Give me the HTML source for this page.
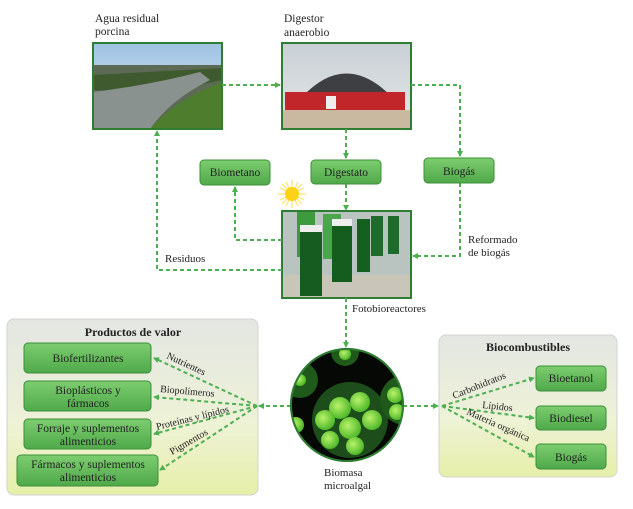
<!DOCTYPE html>
<html><head><meta charset="utf-8"><style>
html,body{margin:0;padding:0;background:#fff;width:633px;height:509px;overflow:hidden}
svg{display:block}
text{font-family:"Liberation Serif",serif;fill:#222}
</style></head><body>
<svg width="633" height="509" viewBox="0 0 633 509" xmlns="http://www.w3.org/2000/svg">
<defs>
<linearGradient id="panel" x1="0" y1="0" x2="0" y2="1"><stop offset="0" stop-color="#e3e6e3"/><stop offset="0.6" stop-color="#eef2d6"/><stop offset="1" stop-color="#e6efa8"/></linearGradient>
<linearGradient id="btn" x1="0" y1="0" x2="0" y2="1"><stop offset="0" stop-color="#7dcd6f"/><stop offset="1" stop-color="#4fa94a"/></linearGradient>
<linearGradient id="sky" x1="0" y1="0" x2="0" y2="1"><stop offset="0" stop-color="#9ec3e3"/><stop offset="1" stop-color="#dfe8ee"/></linearGradient>
<linearGradient id="sky2" x1="0" y1="0" x2="0" y2="1"><stop offset="0" stop-color="#c8d0d6"/><stop offset="1" stop-color="#e4e6e6"/></linearGradient>
<radialGradient id="cell" cx="0.4" cy="0.4" r="0.6"><stop offset="0" stop-color="#b9f26a"/><stop offset="1" stop-color="#4fb829"/></radialGradient>
<marker id="ah" markerWidth="6" markerHeight="6" refX="5" refY="3" orient="auto" markerUnits="userSpaceOnUse"><path d="M0,0 L6,3 L0,6 z" fill="#4caf50"/></marker>
<clipPath id="cc"><circle cx="347" cy="405" r="56"/></clipPath>
</defs>

<!-- panels -->
<rect x="7" y="319" width="251" height="176" rx="7" fill="url(#panel)" stroke="#d0d4d0"/>
<rect x="439" y="335" width="178" height="142" rx="7" fill="url(#panel)" stroke="#d0d4d0"/>
<text x="133" y="336" font-size="12" font-weight="bold" text-anchor="middle">Productos de valor</text>
<text x="528" y="351" font-size="12" font-weight="bold" text-anchor="middle">Biocombustibles</text>

<!-- photo 1 -->
<g>
<rect x="93" y="43" width="129" height="86" fill="url(#sky)"/>
<rect x="93" y="65" width="129" height="64" fill="#5c6b55"/>
<path d="M93,75 L222,68 L222,80 L150,95 L93,90z" fill="#3f5a2e"/>
<path d="M93,92 Q150,85 200,72 L210,80 Q170,100 150,129 L93,129z" fill="#8a9290"/>
<path d="M150,129 Q175,100 222,82 L222,129z" fill="#4f7d2e"/>
<rect x="93" y="43" width="129" height="86" fill="none" stroke="#2e7d32" stroke-width="2"/>
</g>
<!-- photo 2 -->
<g>
<rect x="282" y="43" width="129" height="86" fill="url(#sky2)"/>
<path d="M302,97 Q346,50 392,97z" fill="#3e3f42"/>
<rect x="285" y="92" width="120" height="18" fill="#c0262a"/>
<rect x="326" y="96" width="10" height="13" fill="#eee"/>
<rect x="282" y="110" width="129" height="19" fill="#c9b9a0"/>
<rect x="282" y="43" width="129" height="86" fill="none" stroke="#2e7d32" stroke-width="2"/>
</g>
<!-- photobioreactors -->
<g>
<rect x="282" y="211" width="129" height="87" fill="#b9c4c0"/>
<rect x="282" y="275" width="129" height="23" fill="#c9c6b9"/>
<rect x="297" y="212" width="18" height="45" fill="#3d9a3f"/>
<rect x="323" y="214" width="18" height="45" fill="#4aa64a"/>
<rect x="371" y="216" width="12" height="40" fill="#1e6a2a"/>
<rect x="388" y="216" width="11" height="38" fill="#1e6a2a"/>
<rect x="357" y="219" width="13" height="53" fill="#14601f"/>
<rect x="332" y="220" width="20" height="62" fill="#145d1e"/>
<rect x="332" y="219" width="20" height="7" fill="#eee"/>
<rect x="300" y="228" width="22" height="68" fill="#165c20"/>
<rect x="300" y="225" width="22" height="7" fill="#eee"/>
<rect x="282" y="211" width="129" height="87" fill="none" stroke="#2e7d32" stroke-width="2"/>
</g>

<text x="95" y="22" font-size="11.5">Agua residual</text>
<text x="95" y="35" font-size="11.5">porcina</text>
<text x="284" y="22" font-size="11.5">Digestor</text>
<text x="284" y="36" font-size="11.5">anaerobio</text>

<!-- sun -->
<g stroke="#ffe26a" stroke-width="1.2">
<line x1="278" y1="194" x2="306" y2="194"/><line x1="292" y1="180" x2="292" y2="208"/>
<line x1="282" y1="184" x2="302" y2="204"/><line x1="302" y1="184" x2="282" y2="204"/>
<line x1="280" y1="188" x2="304" y2="200"/><line x1="286" y1="182" x2="298" y2="206"/>
<line x1="298" y1="182" x2="286" y2="206"/><line x1="304" y1="188" x2="280" y2="200"/>
</g>
<circle cx="292" cy="194" r="7" fill="#fcd116"/>

<!-- connectors -->
<g stroke="#4caf50" stroke-width="2" stroke-dasharray="4,3" fill="none">
<line x1="222" y1="85" x2="280" y2="85" marker-end="url(#ah)"/>
<polyline points="411,85 460,85 460,156" marker-end="url(#ah)"/>
<line x1="346" y1="129" x2="346" y2="158" marker-end="url(#ah)"/>
<line x1="346" y1="184" x2="346" y2="210" marker-end="url(#ah)"/>
<polyline points="282,240 235,240 235,187" marker-end="url(#ah)"/>
<polyline points="282,270 157,270 157,131" marker-end="url(#ah)"/>
<polyline points="460,183 460,256 413,256" marker-end="url(#ah)"/>
<line x1="346" y1="298" x2="346" y2="347" marker-end="url(#ah)"/>
<line x1="291" y1="406" x2="259" y2="406" marker-end="url(#ah)"/>
<line x1="257" y1="406" x2="154" y2="358" marker-end="url(#ah)"/>
<line x1="257" y1="406" x2="154" y2="397" marker-end="url(#ah)"/>
<line x1="257" y1="406" x2="154" y2="434" marker-end="url(#ah)"/>
<line x1="257" y1="406" x2="160" y2="470" marker-end="url(#ah)"/>
<line x1="403" y1="406" x2="438" y2="406" marker-end="url(#ah)"/>
<line x1="442" y1="406" x2="534" y2="378" marker-end="url(#ah)"/>
<line x1="442" y1="406" x2="534" y2="418" marker-end="url(#ah)"/>
<line x1="442" y1="406" x2="534" y2="457" marker-end="url(#ah)"/>
</g>

<!-- green boxes -->
<g stroke="#3c8f3a" stroke-width="1" fill="url(#btn)">
<rect x="200" y="160" width="70" height="25" rx="4"/>
<rect x="311" y="160" width="70" height="24" rx="4"/>
<rect x="424" y="158" width="70" height="25" rx="4"/>
<rect x="24" y="343" width="127" height="30" rx="4"/>
<rect x="24" y="381" width="127" height="30" rx="4"/>
<rect x="24" y="419" width="127" height="30" rx="4"/>
<rect x="17" y="455" width="141" height="31" rx="4"/>
<rect x="536" y="366" width="70" height="25" rx="4"/>
<rect x="536" y="406" width="70" height="24" rx="4"/>
<rect x="536" y="444" width="70" height="25" rx="4"/>
</g>
<g font-size="11.5" text-anchor="middle">
<text x="235" y="176">Biometano</text>
<text x="346" y="176">Digestato</text>
<text x="459" y="175">Biogás</text>
<text x="88" y="362">Biofertilizantes</text>
<text x="88" y="394">Bioplásticos y</text>
<text x="88" y="407">fármacos</text>
<text x="88" y="432">Forraje y suplementos</text>
<text x="88" y="445">alimenticios</text>
<text x="88" y="468">Fármacos y suplementos</text>
<text x="88" y="481">alimenticios</text>
<text x="571" y="382">Bioetanol</text>
<text x="571" y="422">Biodiesel</text>
<text x="571" y="461">Biogás</text>
</g>

<!-- labels -->
<g font-size="11">
<text x="165" y="262">Residuos</text>
<text x="468" y="243">Reformado</text>
<text x="468" y="256">de biogás</text>
<text x="352" y="312">Fotobioreactores</text>
<text x="324" y="476">Biomasa</text>
<text x="324" y="489">microalgal</text>
<text font-size="10" transform="translate(166,358) rotate(25)">Nutrientes</text>
<text font-size="10" transform="translate(160,392) rotate(5)">Biopolímeros</text>
<text font-size="10" transform="translate(157,430) rotate(-14)">Proteínas y lípidos</text>
<text font-size="10" transform="translate(172,455) rotate(-30)">Pigmentos</text>
<text font-size="10" transform="translate(454,399) rotate(-22)">Carbohidratos</text>
<text font-size="10" transform="translate(482,408) rotate(6)">Lípidos</text>
<text font-size="10" transform="translate(466,414) rotate(24)">Materia orgánica</text>
</g>

<!-- microalgae circle -->
<circle cx="347" cy="405" r="57" fill="#2a6a2a"/>
<g clip-path="url(#cc)">
<rect x="289" y="347" width="116" height="116" fill="#050805"/>
<circle cx="350" cy="420" r="38" fill="#1d4d1a"/>
<circle cx="300" cy="380" r="18" fill="#1f5a1a"/>
<circle cx="405" cy="400" r="25" fill="#1f5a1a"/>
<circle cx="345" cy="352" r="14" fill="#1f5a1a"/>
<circle cx="340" cy="408" r="11" fill="url(#cell)"/>
<circle cx="360" cy="402" r="10" fill="url(#cell)"/>
<circle cx="325" cy="420" r="10" fill="url(#cell)"/>
<circle cx="350" cy="428" r="11" fill="url(#cell)"/>
<circle cx="372" cy="420" r="10" fill="url(#cell)"/>
<circle cx="330" cy="440" r="9" fill="url(#cell)"/>
<circle cx="355" cy="446" r="9" fill="url(#cell)"/>
<circle cx="300" cy="380" r="6" fill="url(#cell)"/>
<circle cx="296" cy="425" r="8" fill="url(#cell)"/>
<circle cx="395" cy="395" r="8" fill="url(#cell)"/>
<circle cx="397" cy="412" r="8" fill="url(#cell)"/>
<circle cx="345" cy="354" r="6" fill="url(#cell)"/>
</g>
<circle cx="347" cy="405" r="56" fill="none" stroke="#2e7d32" stroke-width="2"/>
</svg>
</body></html>
